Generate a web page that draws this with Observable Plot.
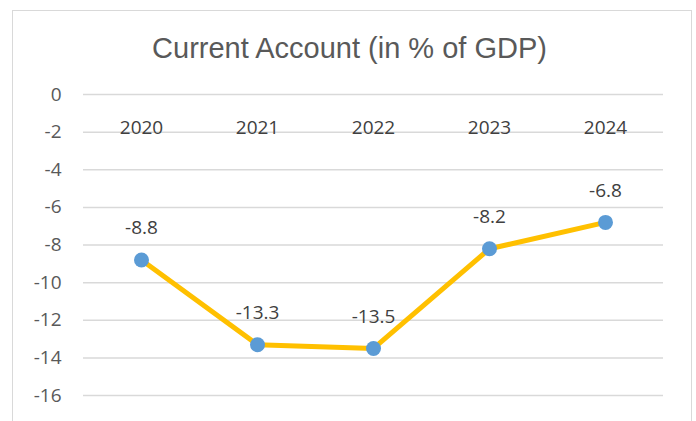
<!DOCTYPE html>
<html>
<head>
<meta charset="utf-8">
<script src="https://cdn.jsdelivr.net/npm/d3@7"></script>
<script src="https://cdn.jsdelivr.net/npm/@observablehq/plot@0.6"></script>
<style>
  html, body { margin: 0; padding: 0; background: #fff; }
  #wrap { position: relative; width: 696px; height: 421px; overflow: hidden; }
  #border { position: absolute; left: 12px; top: 10px; width: 680px; height: 420px;
            border: 1px solid #d9d9d9; border-bottom: none; box-sizing: border-box; }
  #chart { position: absolute; left: 0; top: 0; }
</style>
</head>
<body>
<div id="wrap"><div id="border"></div><div id="chart"></div></div>
<script>
const title = "Current Account (in % of GDP)";
const years = ["2020", "2021", "2022", "2023", "2024"];
const values = [-8.8, -13.3, -13.5, -8.2, -6.8];
const labels = ["-8.8", "-13.3", "-13.5", "-8.2", "-6.8"];
const yTicks = [0, -2, -4, -6, -8, -10, -12, -14, -16];

const data = years.map((y, i) => ({year: y, value: values[i], label: labels[i]}));

const tickFont = "'Open Sans', Lato, sans-serif";

const chart = Plot.plot({
  width: 696,
  height: 421,
  marginLeft: 83,
  marginRight: 33,
  marginTop: 94,
  marginBottom: 26,
  style: {background: "transparent", fontFamily: tickFont},
  x: {type: "band", domain: years, padding: 0, axis: null},
  y: {domain: [-16, 0], ticks: yTicks},
  marks: [
    Plot.ruleY(yTicks, {stroke: "#d9d9d9", strokeWidth: 1.5}),
    Plot.axisY({ticks: yTicks, tickFormat: d => String(d), tickSize: 0, tickPadding: 22, fontSize: 19, fill: "#595959", label: null, textAnchor: "end"}),
    Plot.text(years, {x: d => d, y: () => 0, dy: 33, fontSize: 19, fill: "#404040"}),
    Plot.line(data, {x: "year", y: "value", stroke: "#FFC000", strokeWidth: 5, strokeLinejoin: "round"}),
    Plot.dot(data, {x: "year", y: "value", r: 7.5, fill: "#5B9BD5", stroke: "none"}),
    Plot.text(data, {x: "year", y: "value", text: "label", dy: -32, fontSize: 19, fill: "#404040"}),
    Plot.text([title], {frameAnchor: "top", dx: -24, dy: -57, fontSize: 29, fill: "#595959", fontFamily: "'Liberation Sans', Arial, sans-serif"})
  ]
});
document.getElementById("chart").appendChild(chart);
</script>
</body>
</html>
